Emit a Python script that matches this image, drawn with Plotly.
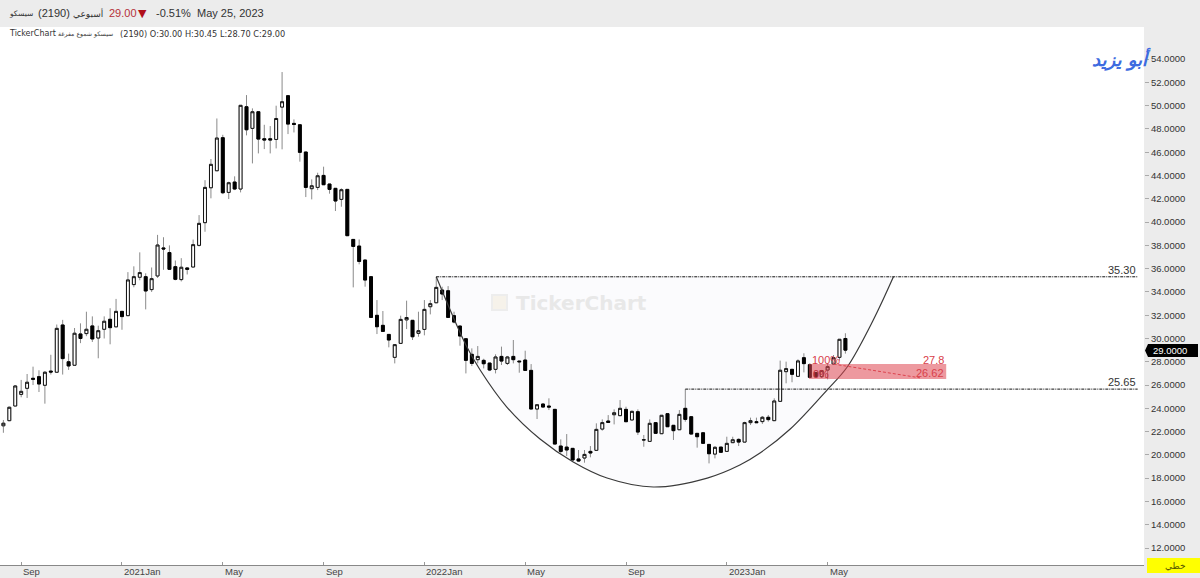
import pandas as pd
import plotly.graph_objects as go

# weekly candles
open_prices = [22.5, 22.94, 24.2, 25.2, 25.72, 26.58, 26.72, 25.98, 27.2, 27.1, 31.16, 28.0, 27.7, 30.39, 30.42, 31.08, 30.04, 30.79, 31.65, 31.0,
               32.33, 31.96, 34.63, 35.26, 35.31, 34.2, 35.37, 37.78, 37.38, 36.17, 35.06, 36.06, 36.14, 38.0, 39.95, 42.95, 44.41, 47.25, 42.55, 43.44,
               42.84, 49.91, 48.05, 49.48, 47.16, 47.16, 47.1, 49.88, 50.86, 48.48, 48.36, 46.02, 42.87, 42.98, 44.01, 43.27, 42.9, 41.95, 42.81, 38.51,
               37.94, 36.74, 35.31, 31.99, 31.13, 30.35, 28.38, 29.58, 31.6, 31.56, 30.44, 30.78, 32.73, 33.07, 34.16, 34.1, 31.96, 31.07, 29.98, 28.64,
               28.18, 28.12, 27.89, 27.35, 28.46, 27.86, 28.46, 28.06, 28.15, 27.26, 23.94, 24.37, 24.2, 23.91, 20.76, 20.67, 20.56, 19.65, 19.73, 20.3,
               20.39, 22.22, 22.91, 23.45, 23.37, 23.91, 23.0, 23.71, 21.28, 21.16, 22.77, 21.82, 23.54, 22.54, 22.16, 24.0, 23.28, 21.85, 21.9, 20.9,
               20.07, 20.67, 20.3, 21.05, 21.33, 21.1, 22.77, 22.85, 22.86, 23.23, 22.94, 24.6, 27.15, 27.35, 26.75, 28.35, 27.75, 27.07, 26.72, 27.29,
               27.81, 28.38, 30.0]
high_prices = [23.0, 24.15, 26.0, 26.44, 26.95, 27.58, 27.27, 27.2, 28.6, 31.2, 31.6, 28.7, 30.9, 31.3, 32.3, 31.9, 31.1, 31.9, 32.6, 33.4,
               32.33, 35.7, 36.2, 37.4, 35.6, 36.1, 38.9, 38.7, 38.0, 36.7, 36.9, 36.1, 38.5, 40.6, 43.6, 45.42, 48.9, 47.5, 43.47, 43.93,
               50.03, 50.91, 49.77, 49.48, 48.36, 48.25, 50.0, 52.89, 50.86, 48.82, 48.36, 46.02, 43.67, 44.24, 44.76, 43.27, 42.9, 42.9, 42.81, 38.51,
               38.51, 36.74, 35.33, 33.3, 32.36, 30.35, 29.47, 31.96, 33.25, 31.56, 32.3, 33.3, 33.3, 35.3, 34.45, 34.5, 32.3, 31.07, 29.98, 29.15,
               29.35, 28.26, 27.89, 28.64, 29.3, 28.5, 29.87, 28.06, 28.95, 27.8, 24.31, 24.43, 24.86, 23.91, 21.33, 21.79, 20.56, 20.42, 20.42, 20.76,
               22.71, 23.05, 23.42, 23.91, 24.71, 24.14, 23.8, 23.91, 21.71, 23.05, 22.77, 23.4, 23.54, 22.54, 23.85, 25.65, 23.28, 21.85, 21.9, 20.9,
               20.76, 20.67, 21.56, 21.56, 21.42, 22.85, 23.2, 23.2, 23.34, 23.43, 24.86, 28.1, 28.01, 27.35, 28.21, 28.73, 27.87, 27.07, 27.3, 27.87,
               28.58, 29.93, 30.45]
low_prices = [21.9, 22.9, 24.2, 24.95, 24.89, 26.0, 25.4, 24.4, 26.9, 27.1, 26.9, 27.3, 27.7, 29.6, 30.2, 29.7, 28.3, 30.0, 29.5, 31.0,
              30.75, 31.96, 34.4, 35.0, 32.5, 34.0, 35.2, 35.9, 35.9, 35.0, 34.9, 35.5, 36.14, 37.9, 39.17, 42.04, 44.41, 42.4, 41.98, 42.75,
              42.55, 47.45, 45.04, 45.9, 46.27, 45.9, 46.33, 46.25, 47.56, 47.7, 45.19, 42.15, 41.95, 42.75, 43.21, 42.44, 40.95, 41.32, 38.83, 34.39,
              36.37, 34.45, 31.81, 30.38, 30.61, 29.24, 27.86, 29.58, 30.81, 29.87, 30.15, 30.27, 32.07, 33.07, 33.3, 31.81, 31.3, 29.38, 27.0, 27.63,
              27.86, 27.43, 27.2, 27.0, 27.72, 27.72, 27.86, 27.06, 27.26, 23.94, 23.08, 24.08, 23.85, 20.93, 20.13, 19.9, 19.56, 19.4, 19.33, 19.79,
              20.39, 22.08, 22.79, 22.62, 23.37, 22.85, 23.0, 21.71, 20.7, 21.16, 21.85, 21.82, 22.42, 21.28, 22.16, 22.85, 21.79, 20.62, 20.99, 19.27,
              19.7, 20.22, 20.3, 21.05, 20.76, 21.1, 22.57, 22.77, 22.66, 22.86, 22.94, 24.6, 26.15, 26.24, 26.75, 27.09, 26.66, 26.72, 26.66, 26.49,
              27.72, 28.1, 28.7]
close_prices = [22.72, 24.09, 25.92, 25.46, 26.24, 26.5, 26.09, 27.1, 27.12, 30.87, 28.27, 27.64, 30.45, 30.0, 30.79, 29.96, 30.67, 31.48, 30.93, 32.33,
                31.88, 35.03, 35.31, 35.66, 34.08, 35.14, 38.03, 37.69, 35.94, 35.08, 36.12, 35.94, 38.06, 39.89, 42.98, 44.96, 47.22, 42.52, 43.38, 42.84,
                50.03, 47.93, 49.48, 47.13, 47.05, 47.05, 48.9, 50.34, 48.42, 48.39, 45.99, 42.98, 43.12, 43.98, 43.21, 42.81, 41.81, 42.78, 38.83, 37.91,
                36.62, 35.02, 31.81, 31.01, 30.61, 29.87, 29.47, 31.64, 31.8, 30.15, 30.67, 32.5, 32.99, 34.39, 33.82, 31.81, 31.41, 30.21, 28.12, 27.86,
                28.46, 27.83, 27.29, 28.41, 28.06, 28.41, 28.18, 28.0, 27.26, 23.94, 24.31, 24.11, 24.11, 20.93, 20.3, 20.42, 19.56, 19.47, 20.04, 20.16,
                22.19, 22.77, 22.79, 23.62, 24.0, 22.85, 23.74, 21.96, 21.3, 22.71, 21.85, 23.4, 22.42, 22.08, 23.48, 23.05, 21.79, 21.56, 20.99, 20.1,
                20.65, 20.22, 20.99, 21.3, 21.1, 22.77, 22.94, 22.77, 23.23, 23.03, 24.63, 27.27, 27.41, 26.92, 28.07, 27.84, 26.66, 26.72, 27.24, 27.58,
                28.35, 29.93, 29.0]

# cup drawn on the chart (week number from first candle, price)
cup_weeks = [73.0, 78.0, 80.4, 84.9, 90.5, 96.1, 101.8, 109.6, 118.7, 124.2, 127.6, 132.7, 138.9, 142.3, 146.7, 150.1]
cup_prices = [35.3, 29.44, 27.29, 24.11, 21.36, 19.39, 18.01, 17.24, 18.01, 19.13, 20.16, 22.22, 25.57, 27.55, 31.59, 35.3]

tick_dates = ["2020-09-24", "2021-01-21", "2021-05-20", "2021-09-16", "2022-01-13", "2022-05-12", "2022-09-08", "2023-01-05", "2023-05-04"]
tick_names = ["Sep", "2021Jan", "May", "Sep", "2022Jan", "May", "Sep", "2023Jan", "May"]
price_ticks = list(range(12, 56, 2))

top_level = 35.30
neck_level = 25.65
zone_top = 27.8
zone_bottom = 26.62

dates = pd.date_range("2020-09-03", periods=len(close_prices), freq="7D")
cup_dates = dates[0] + pd.to_timedelta(cup_weeks, unit="W")
line_end = pd.Timestamp("2024-05-04")
zone_start = pd.Timestamp("2023-04-12")
zone_end = pd.Timestamp("2023-09-21")


def px(x):
    return x / 1144


def py(y):
    return (565 - y) / 538


def label(x, y, text, size=10, color="#333333", anchor="left", family="Liberation Sans", **kw):
    fig.add_annotation(xref="paper", yref="paper", x=px(x), y=py(y), text=text, showarrow=False,
                       xanchor=anchor, yanchor="middle", font=dict(size=size, color=color, family=family), borderpad=0, **kw)


fig = go.Figure()

# pale inside of the cup goes under the candles
cup_points = [f"{d.strftime('%Y-%m-%d_%H:%M')} {p}" for d, p in zip(cup_dates, cup_prices)]
fig.add_shape(type="path", path="M " + " L ".join(cup_points) + " Z", layer="below", line=dict(width=0), fillcolor="#fbfbfd")

# wicks grey, bodies black on top
fig.add_trace(go.Candlestick(x=dates, open=open_prices, high=high_prices, low=low_prices, close=close_prices,
                             increasing=dict(line=dict(color="#8a8a8a", width=1), fillcolor="white"),
                             decreasing=dict(line=dict(color="#8a8a8a", width=1), fillcolor="black"),
                             whiskerwidth=0))
body_top = [max(o, c) for o, c in zip(open_prices, close_prices)]
body_bottom = [min(o, c) for o, c in zip(open_prices, close_prices)]
fig.add_trace(go.Candlestick(x=dates, open=open_prices, high=body_top, low=body_bottom, close=close_prices,
                             increasing=dict(line=dict(color="#111111", width=1), fillcolor="white"),
                             decreasing=dict(line=dict(color="#000000", width=1), fillcolor="black"),
                             whiskerwidth=0))

fig.add_trace(go.Scatter(x=cup_dates, y=cup_prices, mode="lines", line=dict(color="#3a3a3a", width=1.2, shape="spline"), hoverinfo="skip"))
fig.add_trace(go.Scatter(x=[dates[73], line_end], y=[top_level, top_level], mode="lines",
                         line=dict(color="#111111", width=1, dash="3px 1px 1px 1px"), hoverinfo="skip"))
fig.add_trace(go.Scatter(x=[dates[115], line_end], y=[neck_level, neck_level], mode="lines",
                         line=dict(color="#111111", width=1, dash="3px 1px 1px 1px"), hoverinfo="skip"))
fig.add_trace(go.Scatter(x=[dates[140], dates[142] + pd.Timedelta(days=88)], y=[zone_top, zone_bottom], mode="lines",
                         line=dict(color="#d9404a", width=1, dash="3px 2px"), hoverinfo="skip"))

fig.add_shape(type="rect", x0=zone_start, x1=zone_end, y0=zone_bottom - 0.1, y1=zone_top, layer="above",
              line=dict(width=0), fillcolor="rgba(222,70,80,0.55)")

# header
label(8, 13, "سيسكو", size=7.5, family="DejaVu Sans")
label(37, 13, "(2190)", size=11)
label(72, 13, "أسبوعي", size=9, family="DejaVu Sans")
label(108, 13, "29.00", size=11, color="#b5303a")
label(137, 13, "▼", size=11, color="#b0101a", family="DejaVu Sans")
label(155, 13, "-0.51%", size=11)
label(196, 13, "May 25, 2023", size=11)
label(8, 34, "TickerChart", size=8, family="DejaVu Sans")
label(57, 34, "سيسكو شموع مفرغة", size=6.2, family="DejaVu Sans")
label(119, 34, "(2190) O:30.00 H:30.45 L:28.70 C:29.00", size=8.2, family="DejaVu Sans")

label(1152, 59, "<b><i>أبو يزيد</i></b>", size=18, color="#3d6be0", anchor="right", family="DejaVu Sans")
label(515, 303, "<b>TickerChart</b>", size=20, color="#e8e8e8", family="DejaVu Sans")
fig.add_shape(type="rect", xref="paper", yref="paper", x0=px(492), x1=px(507), y0=py(310), y1=py(295),
              line=dict(color="#ededed", width=2), fillcolor="#f6f2ea")

label(1137, 270, "35.30", size=11, anchor="right")
label(1137, 382, "25.65", size=11, anchor="right")
label(811, 360, "100%", size=11, color="#d9404a")
label(812, 374, "0%", size=11, color="#c03040")
label(945, 360, "27.8", size=11, color="#d9404a", anchor="right")
label(945, 373, "26.62", size=11, color="#d9404a", anchor="right")

# last price tag on the axis
fig.add_shape(type="rect", xref="paper", yref="paper", x0=px(1148), x1=px(1198), y0=py(357), y1=py(344),
              line=dict(width=0), fillcolor="black", layer="above")
fig.add_shape(type="path", xref="paper", yref="paper", layer="above", line=dict(width=0), fillcolor="black",
              path=f"M {px(1145)} {py(350.5)} L {px(1148)} {py(344)} L {px(1148)} {py(357)} Z")
label(1152, 350.5, "29.0000", size=9.5, color="white")

# bottom labels
for d, name in zip(tick_dates, tick_names):
    fig.add_annotation(x=d, xref="x", y=py(571), yref="paper", text=name, showarrow=False, xanchor="left", xshift=0,
                       yanchor="middle", font=dict(size=9.5, color="#444444", family="Liberation Sans"))

fig.add_shape(type="rect", xref="paper", yref="paper", x0=px(1147), x1=px(1200), y0=py(573), y1=py(558),
              line=dict(width=0), fillcolor="#ffff00")
label(1175, 566, "خطي", size=9, color="#555500", anchor="center", family="DejaVu Sans")

fig.update_layout(
    width=1200, height=578, autosize=False, showlegend=False,
    margin=dict(l=0, r=56, t=27, b=13),
    paper_bgcolor="#ececec", plot_bgcolor="white",
    boxgap=0.3,
    font=dict(family="Liberation Sans", color="#333333"),
)
fig.update_xaxes(type="date", range=["2020-08-30", "2024-05-11 12:00"], rangeslider_visible=False, showgrid=False, zeroline=False,
                 tickvals=tick_dates, ticktext=["" for t in tick_dates], ticks="inside", ticklen=3, tickcolor="#999999",
                 showline=True, linecolor="#888888", linewidth=1)
fig.update_yaxes(side="right", range=[10.54, 56.76], tickvals=price_ticks, tickformat=".4f", showgrid=False, zeroline=False,
                 ticks="outside", ticklen=4, tickcolor="#aaaaaa", tickfont=dict(size=9.5, color="#333333", family="Liberation Sans"),
                 showline=False)

fig.write_html("out.html", config={"displayModeBar": False},
               post_script="document.body.style.margin='0';document.body.style.overflow='hidden';")
